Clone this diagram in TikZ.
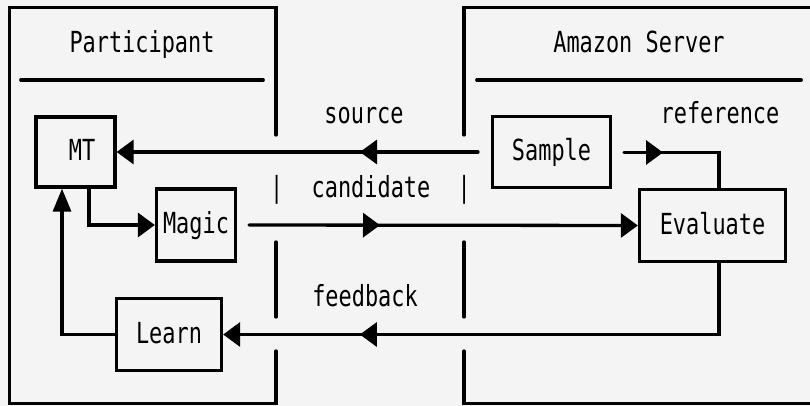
\documentclass[tikz,border=0pt]{standalone}
\usepackage{fontspec}
\newfontfamily\diagfont[FakeStretch=0.755]{DejaVu Sans Mono}
\usetikzlibrary{arrows.meta,decorations.markings}
\definecolor{paper}{RGB}{244,244,244}

\tikzset{
  htip/.tip={Triangle[length=17pt,width=24pt]},
  vtip/.tip={Triangle[length=23pt,width=18pt]},
}

\begin{document}
\begin{tikzpicture}[x=1pt,y=-1pt,
  every node/.style={font={\diagfont\fontsize{29}{33}\selectfont}, inner sep=0pt},
  wire/.style={line width=3.3pt, line cap=round, line join=miter},
  rule/.style={line width=3.8pt, line cap=round},
  box/.style={draw, line width=3.3pt, text height=17pt, text depth=0pt},
  txt/.style={anchor=base},
  midarrow/.style={postaction={decorate,
      decoration={markings, mark=at position #1 with {\arrow{htip}}}}},
]
\useasboundingbox[fill=paper] (0,0) rectangle (810,406);

% Participant frame, open on its right side where the messages pass
\draw[wire] (276,135) -- (276,7.5) -- (9.5,7.5) -- (9.5,403.5) -- (276,403.5) -- (276,351);
\draw[wire] (276,242) -- (276,317);
\draw[rule] (21,80) -- (263,80);
\node[txt] (tparticipant) at (142,53) {Participant};

% Amazon Server frame, open on its left side
\draw[wire] (464,135) -- (464,7.5) -- (812,7.5);
\draw[wire] (464,242) -- (464,317);
\draw[wire] (464,351) -- (464,403.5) -- (812,403.5);
\draw[rule] (477,80) -- (801,80);
\node[txt] (tamazon) at (639,53) {Amazon Server};

% processing boxes
\node[box, minimum width=79pt,  minimum height=70pt]   (mt)       at (75.5,152)   {\kern13.2pt MT};
\node[box, minimum width=79pt,  minimum height=72pt]   (magic)    at (196,225)    {Magic};
\node[box, minimum width=118pt, minimum height=70.5pt] (sample)   at (551.5,152)  {Sample};
\node[box, minimum width=146pt, minimum height=72pt]   (evaluate) at (712.5,225.5) {Evaluate};
\node[box, minimum width=105pt, minimum height=72pt]   (learn)    at (169,334.5)  {Learn};

% free ends and bends of the message lines
\coordinate (srcstart)  at (478,152);
\coordinate (candstart) at (249,225);
\coordinate (refstart)  at (624,152.5);
\coordinate (refcorner) at (719,152.5);

% messages between participant and server
\draw[wire, -{htip}, midarrow=118pt] (srcstart) -- (mt.east);
\draw[wire, -{htip}, midarrow=131pt] (candstart) -- (evaluate.west);
\draw[wire, midarrow=39pt] (refstart) -- (refcorner) -- (refcorner |- evaluate.north);
\draw[wire, -{htip}, midarrow=430.5pt] (refcorner |- evaluate.south) |- (learn.east);

% loop inside the participant
\draw[wire, -{htip}] ([xshift=13.5pt]mt.south) |- (magic.west);
\draw[wire, -{vtip}] (learn.west) -| ([xshift=-13.5pt]mt.south);

% message labels
\node[txt] (tsource)    at (364,124) {source};
\node[txt] (treference) at (720,124) {reference};
\node[txt] (tcandidate) at (371,197) {candidate};
\node[txt] (tfeedback)  at (365,306) {feedback};
\node[txt] (pipeleft)   at (276.7,197) {|};
\node[txt] (piperight)  at (464.3,197) {|};
\end{tikzpicture}
\end{document}
